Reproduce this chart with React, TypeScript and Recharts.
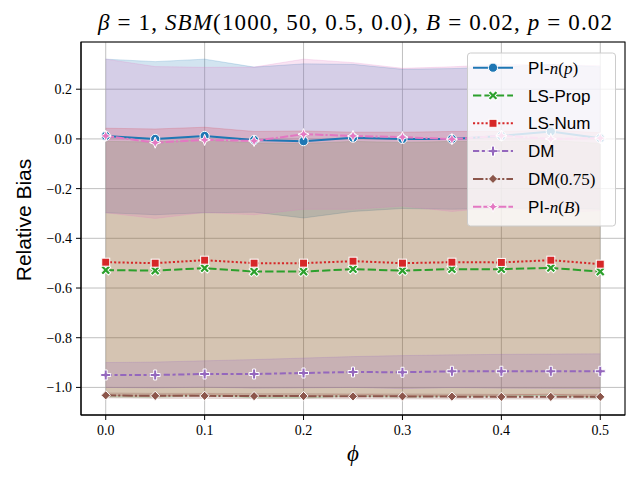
import {
  ComposedChart,
  Area,
  Line,
  XAxis,
  YAxis,
  CartesianGrid,
} from "recharts";

const PHI = [0, 0.05, 0.1, 0.15, 0.2, 0.25, 0.3, 0.35, 0.4, 0.45, 0.5];

const PI_NP_MEAN = [0.012, 0.0, 0.012, -0.004, -0.009, 0.005, 0.0, 0.0, 0.012, 0.03, 0.003];
const PI_NP_LOW = [-0.297, -0.305, -0.297, -0.295, -0.318, -0.292, -0.28, -0.283, -0.28, -0.278, -0.283];
const PI_NP_HIGH = [0.321, 0.311, 0.321, 0.289, 0.302, 0.3, 0.28, 0.283, 0.29, 0.3, 0.29];

const LS_PROP_MEAN = [-0.528, -0.53, -0.52, -0.534, -0.534, -0.524, -0.53, -0.524, -0.524, -0.519, -0.534];
const LS_PROP_LOW = [-1.038, -1.04, -1.032, -1.042, -1.043, -1.035, -1.04, -1.036, -1.036, -1.032, -1.043];
const LS_PROP_HIGH = [-0.01, -0.012, -0.004, -0.016, -0.018, -0.01, -0.014, -0.01, -0.01, -0.006, -0.018];

const LS_NUM_MEAN = [-0.496, -0.5, -0.488, -0.5, -0.5, -0.492, -0.5, -0.496, -0.497, -0.488, -0.504];
const LS_NUM_LOW = [-1.032, -1.036, -1.026, -1.036, -1.035, -1.028, -1.035, -1.032, -1.032, -1.027, -1.04];
const LS_NUM_HIGH = [0.043, 0.04, 0.047, 0.03, 0.032, 0.027, 0.027, 0.03, 0.03, 0.035, 0.025];

const DM_MEAN = [-0.95, -0.95, -0.946, -0.946, -0.942, -0.938, -0.939, -0.935, -0.935, -0.935, -0.935];
const DM_LOW = [-1.0, -1.002, -0.999, -1.003, -1.002, -1.0, -1.005, -1.001, -1.003, -1.004, -1.005];
const DM_HIGH = [-0.9, -0.898, -0.893, -0.888, -0.882, -0.876, -0.872, -0.869, -0.867, -0.866, -0.865];

const DM75_MEAN = [-1.032, -1.034, -1.034, -1.035, -1.035, -1.036, -1.036, -1.037, -1.038, -1.038, -1.038];
const DM75_LOW = [-1.042, -1.044, -1.044, -1.045, -1.045, -1.046, -1.046, -1.047, -1.047, -1.047, -1.047];
const DM75_HIGH = [-1.022, -1.024, -1.024, -1.025, -1.025, -1.026, -1.026, -1.027, -1.028, -1.028, -1.028];

const PI_NB_MEAN = [0.012, -0.015, -0.004, -0.008, 0.019, 0.012, 0.007, -0.001, 0.013, 0.0, 0.003];
const PI_NB_LOW = [-0.297, -0.32, -0.296, -0.305, -0.283, -0.283, -0.27, -0.292, -0.274, -0.298, -0.289];
const PI_NB_HIGH = [0.321, 0.291, 0.288, 0.289, 0.321, 0.307, 0.284, 0.29, 0.3, 0.298, 0.295];

const X_TICKS = [0, 0.1, 0.2, 0.3, 0.4, 0.5];
const Y_TICKS = [-1.0, -0.8, -0.6, -0.4, -0.2, 0.0, 0.2];

type MarkerKind = "circle" | "x" | "square" | "plus" | "diamond" | "star";

interface Series {
  key: string;
  color: string;
  dash?: string;
  marker: MarkerKind;
}

const SERIES: Series[] = [
  { key: "piNp", color: "#1f77b4", marker: "circle" },
  { key: "lsProp", color: "#2ca02c", dash: "8.3 3.1", marker: "x" },
  { key: "lsNum", color: "#d62728", dash: "2.1 2.1", marker: "square" },
  { key: "dm", color: "#9467bd", dash: "6.2 2.6 3.1 2.6", marker: "plus" },
  { key: "dm75", color: "#8c564b", dash: "10.4 2.1 2.1 2.1", marker: "diamond" },
  { key: "piNb", color: "#e377c2", dash: "8.3 2.1 8.3 2.1 2.1 2.1", marker: "star" },
];

const data = PHI.map((phi, i) => ({
  phi,
  piNp: PI_NP_MEAN[i],
  piNpBand: [PI_NP_LOW[i], PI_NP_HIGH[i]],
  lsProp: LS_PROP_MEAN[i],
  lsPropBand: [LS_PROP_LOW[i], LS_PROP_HIGH[i]],
  lsNum: LS_NUM_MEAN[i],
  lsNumBand: [LS_NUM_LOW[i], LS_NUM_HIGH[i]],
  dm: DM_MEAN[i],
  dmBand: [DM_LOW[i], DM_HIGH[i]],
  dm75: DM75_MEAN[i],
  dm75Band: [DM75_LOW[i], DM75_HIGH[i]],
  piNb: PI_NB_MEAN[i],
  piNbBand: [PI_NB_LOW[i], PI_NB_HIGH[i]],
}));

function plusPoints(a: number, b: number) {
  return [
    [-a, -b], [a, -b], [a, -a], [b, -a], [b, a], [a, a],
    [a, b], [-a, b], [-a, a], [-b, a], [-b, -a], [-a, -a],
  ]
    .map((p) => p.join(","))
    .join(" ");
}

function Marker({ kind, x, y, color }: { kind: MarkerKind; x: number; y: number; color: string }) {
  const common = { fill: color, stroke: "#fff", strokeWidth: 1 };
  const t = `translate(${x},${y})`;
  switch (kind) {
    case "circle":
      return <circle cx={x} cy={y} r={4.6} {...common} />;
    case "x":
      return <polygon transform={`${t} rotate(45)`} points={plusPoints(1.6, 5.4)} {...common} />;
    case "square":
      return <rect x={x - 4} y={y - 4} width={8} height={8} {...common} />;
    case "plus":
      return <polygon transform={t} points={plusPoints(1.5, 5)} {...common} />;
    case "diamond":
      return <polygon transform={t} points="0,-4.6 4.6,0 0,4.6 -4.6,0" {...common} />;
    case "star":
      return (
        <polygon
          transform={t}
          points="0,-5.6 1.6,-1.6 5.6,0 1.6,1.6 0,5.6 -1.6,1.6 -5.6,0 -1.6,-1.6"
          {...common}
        />
      );
  }
}

const fmt = (v: number) => (v < 0 ? "\u2212" + Math.abs(v).toFixed(1) : v.toFixed(1));

const SERIF = "'Liberation Serif', 'DejaVu Serif', serif";
const SANS = "'Liberation Sans', 'DejaVu Sans', sans-serif";

const LEGEND_LABELS: any[] = [
  <><tspan>PI-</tspan><tspan fontFamily={SERIF} fontStyle="italic">n</tspan><tspan fontFamily={SERIF}>(</tspan><tspan fontFamily={SERIF} fontStyle="italic">p</tspan><tspan fontFamily={SERIF}>)</tspan></>,
  "LS-Prop",
  "LS-Num",
  "DM",
  <><tspan>DM</tspan><tspan fontFamily={SERIF}>(0.75)</tspan></>,
  <><tspan>PI-</tspan><tspan fontFamily={SERIF} fontStyle="italic">n</tspan><tspan fontFamily={SERIF}>(</tspan><tspan fontFamily={SERIF} fontStyle="italic">B</tspan><tspan fontFamily={SERIF}>)</tspan></>,
];

// title, axis labels, frame and legend drawn on top of the chart
function Overlay() {
  return (
    <svg
      width={640}
      height={480}
      style={{ position: "absolute", left: 0, top: 0, pointerEvents: "none" }}
    >
      <text
        x={98}
        y={30}
        textLength={514}
        lengthAdjust="spacing"
        fontFamily={SERIF}
        fontSize={23}
        fill="#000"
      >
        <tspan fontStyle="italic">β</tspan>
        {" = 1, "}
        <tspan fontStyle="italic">SBM</tspan>
        {"(1000, 50, 0.5, 0.0), "}
        <tspan fontStyle="italic">B</tspan>
        {" = 0.02, "}
        <tspan fontStyle="italic">p</tspan>
        {" = 0.02"}
      </text>
      <text
        x={0}
        y={0}
        transform="translate(31,220) rotate(-90)"
        textAnchor="middle"
        fontFamily={SANS}
        fontSize={21}
        fill="#000"
      >
        Relative Bias
      </text>
      <text x={353} y={461} textAnchor="middle" fontFamily={SERIF} fontStyle="italic" fontSize={23} fill="#000">
        ϕ
      </text>
      <rect x={81} y={42} width={544} height={373} fill="none" stroke="#000" strokeWidth={1} />
      <rect x={467.5} y={53} width={148} height={173} rx={3} fill="#fff" fillOpacity={0.8} stroke="#cccccc" />
      {SERIES.map((s, i) => {
        const cy = 67.7 + i * 27.8;
        return (
          <g key={s.key}>
            <line x1={473} x2={513} y1={cy} y2={cy} stroke={s.color} strokeWidth={2} strokeDasharray={s.dash} />
            <Marker kind={s.marker} x={493} y={cy} color={s.color} />
            <text x={528} y={cy + 6} fontFamily={SANS} fontSize={17} fill="#000">
              {LEGEND_LABELS[i]}
            </text>
          </g>
        );
      })}
    </svg>
  );
}

export default function App() {
  return (
    <div style={{ position: "absolute", left: 0, top: 0, width: 640, height: 480, background: "#fff" }}>
      <ComposedChart width={640} height={480} data={data} margin={{ top: 42, right: 15, bottom: 0, left: 0 }}>
        <CartesianGrid stroke="#b0b0b0" strokeWidth={0.8} />
        <XAxis
          dataKey="phi"
          type="number"
          domain={[-0.025, 0.525]}
          ticks={X_TICKS}
          tickFormatter={(v: number) => v.toFixed(1)}
          height={65}
          tickSize={5}
          tickMargin={5}
          stroke="#000"
          tick={{ fill: "#000", fontFamily: SERIF, fontSize: 14 }}
          allowDataOverflow
        />
        <YAxis
          type="number"
          domain={[-1.111, 0.39]}
          ticks={Y_TICKS}
          tickFormatter={fmt}
          width={81}
          tickSize={5}
          tickMargin={4}
          stroke="#000"
          tick={{ fill: "#000", fontFamily: SERIF, fontSize: 14 }}
          allowDataOverflow
        />
        {SERIES.map((s) => (
          <Area
            key={s.key + "Band"}
            dataKey={s.key + "Band"}
            type="linear"
            fill={s.color}
            fillOpacity={0.2}
            stroke={s.color}
            strokeOpacity={0.2}
            strokeWidth={1}
            isAnimationActive={false}
            dot={false}
            activeDot={false}
          />
        ))}
        {SERIES.map((s) => (
          <Line
            key={s.key}
            dataKey={s.key}
            type="linear"
            stroke={s.color}
            strokeWidth={2}
            strokeDasharray={s.dash}
            isAnimationActive={false}
            activeDot={false}
            dot={(p: any) => (
              <Marker key={`${s.key}-${p.index}`} kind={s.marker} x={p.cx} y={p.cy} color={s.color} />
            )}
          />
        ))}
      </ComposedChart>
      <Overlay />
    </div>
  );
}
